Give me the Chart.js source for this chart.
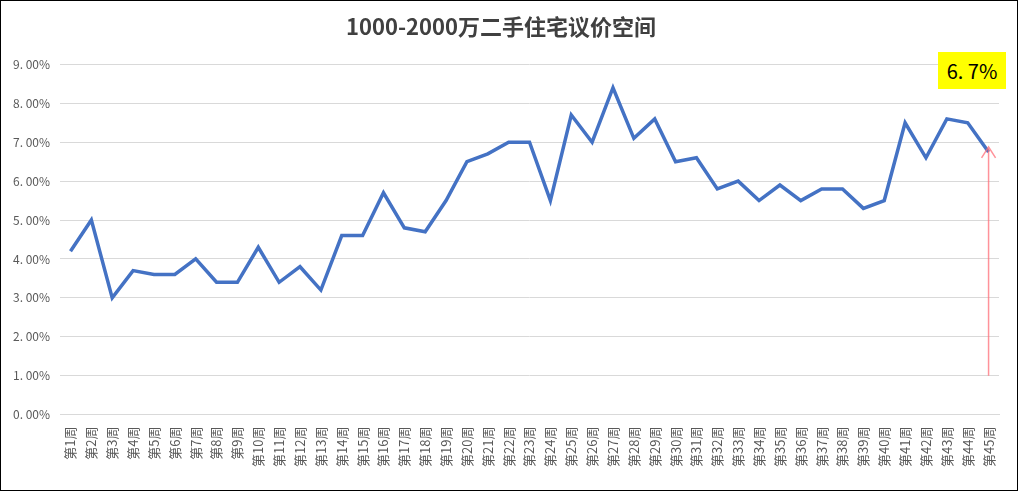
<!DOCTYPE html>
<html>
<head>
<meta charset="utf-8">
<script src="https://cdn.jsdelivr.net/npm/chart.js@4/dist/chart.umd.min.js"></script>
<style>
  html, body { margin: 0; padding: 0; background: #fff; }
  #wrap { position: relative; width: 1016px; height: 489px; border: 1px solid #000; background: #fff; }
  #c { display: block; }
  #badge { position: absolute; left: 937px; top: 51px; width: 68px; height: 37px; background: #ffff00;
           font-family: 'Noto Sans CJK SC', sans-serif; font-size: 20px; color: #000;
           display: flex; align-items: center; justify-content: center; }
</style>
</head>
<body>
<div id="wrap">
  <canvas id="c" width="1016" height="489"></canvas>
  <div id="badge">6. 7%</div>
</div>
<script>
const titleText = '1000-2000万二手住宅议价空间';
const weeks = [];
for (let i = 1; i <= 45; i++) weeks.push('第' + i + '周');
const bargainSpace = [4.2, 5.0, 3.0, 3.7, 3.6, 3.6, 4.0, 3.4, 3.4, 4.3,
                      3.4, 3.8, 3.2, 4.6, 4.6, 5.7, 4.8, 4.7, 5.5, 6.5,
                      6.7, 7.0, 7.0, 5.5, 7.7, 7.0, 8.4, 7.1, 7.6, 6.5,
                      6.6, 5.8, 6.0, 5.5, 5.9, 5.5, 5.8, 5.8, 5.3, 5.5,
                      7.5, 6.6, 7.6, 7.5, 6.75];
const yTickValues = [0, 1, 2, 3, 4, 5, 6, 7, 8, 9];
const yTickLabels = ['0. 00%', '1. 00%', '2. 00%', '3. 00%', '4. 00%', '5. 00%', '6. 00%', '7. 00%', '8. 00%', '9. 00%'];
const arrowFromValue = 1.0;
const arrowIndex = 44;

const font = "'Noto Sans CJK SC', sans-serif";

const arrowPlugin = {
  id: 'arrow',
  afterDatasetsDraw(chart) {
    const { ctx, scales } = chart;
    const x = scales.x.getPixelForValue(arrowIndex);
    const y0 = scales.y.getPixelForValue(arrowFromValue);
    const y1 = scales.y.getPixelForValue(bargainSpace[arrowIndex]) - 5;
    ctx.save();
    ctx.strokeStyle = 'rgba(255, 110, 120, 0.75)';
    ctx.lineWidth = 1.5;
    ctx.beginPath();
    ctx.moveTo(x, y0);
    ctx.lineTo(x, y1);
    ctx.moveTo(x - 7, y1 + 11);
    ctx.lineTo(x, y1);
    ctx.lineTo(x + 7, y1 + 11);
    ctx.stroke();
    ctx.restore();
  }
};

new Chart(document.getElementById('c'), {
  type: 'line',
  data: {
    labels: weeks,
    datasets: [{
      data: bargainSpace,
      borderColor: '#4472C4',
      borderWidth: 3.5,
      pointRadius: 0,
      tension: 0,
      fill: false
    }]
  },
  options: {
    responsive: false,
    animation: false,
    layout: { padding: { left: 2, right: 18, top: 0, bottom: 11 } },
    plugins: {
      legend: { display: false },
      tooltip: { enabled: false },
      title: {
        display: true,
        text: titleText,
        color: '#404040',
        font: { family: font, size: 22, weight: 'bold' },
        padding: { top: 12, bottom: 25 }
      }
    },
    scales: {
      x: {
        offset: true,
        grid: { display: false, drawTicks: false },
        border: { display: true, color: '#d9d9d9', width: 1 },
        ticks: {
          autoSkip: false,
          maxRotation: 90,
          minRotation: 90,
          color: '#595959',
          padding: 12,
          font: { family: font, size: 13 }
        }
      },
      y: {
        min: 0,
        max: 9,
        afterBuildTicks(scale) { scale.ticks = yTickValues.map(v => ({ value: v })); },
        grid: { color: '#d9d9d9', drawTicks: false },
        border: { display: false },
        ticks: {
          color: '#595959',
          padding: 10,
          font: { family: font, size: 12 },
          callback: (v) => yTickLabels[yTickValues.indexOf(v)]
        }
      }
    }
  },
  plugins: [arrowPlugin]
});
</script>
</body>
</html>
